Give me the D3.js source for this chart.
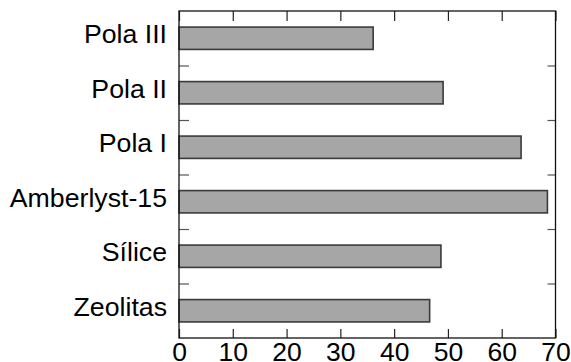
<!DOCTYPE html>
<html>
<head>
<meta charset="utf-8">
<script src="https://cdn.jsdelivr.net/npm/d3@7"></script>
<style>
html,body{margin:0;padding:0;background:#fff;}
svg{display:block;}
text{font-family:"Liberation Sans",Arial,sans-serif;}
</style>
</head>
<body>
<svg id="chart" width="571" height="362"></svg>
<script>
const categories = ["Pola III", "Pola II", "Pola I", "Amberlyst-15", "Sílice", "Zeolitas"];
const values = [36.1, 49.1, 63.6, 68.5, 48.7, 46.6];
const xTicks = [0, 10, 20, 30, 40, 50, 60, 70];

const svg = d3.select("#chart");
const L = 179, R = 555.5, T = 11, B = 338;

const x = d3.scaleLinear().domain([0, 70]).range([L, R]);
const y = d3.scaleBand().domain(categories).range([T, B]).paddingInner(0.59).paddingOuter(0.295);
const yEdge = d3.scaleLinear().domain([0, categories.length]).range([T, B]);

// bars
svg.append("g").selectAll("rect").data(categories).join("rect")
  .attr("x", x(0))
  .attr("y", d => y(d))
  .attr("width", (d, i) => x(values[i]) - x(0))
  .attr("height", y.bandwidth())
  .attr("fill", "#a6a6a6")
  .attr("stroke", "#3a3a3a")
  .attr("stroke-width", 1.6);

// x axes (inward ticks)
const gb = svg.append("g").attr("transform", `translate(0,${B})`)
  .call(d3.axisBottom(x).tickValues(xTicks).tickSize(-9).tickPadding(4).tickFormat(d3.format("d")));
const gt = svg.append("g").attr("transform", `translate(0,${T})`)
  .call(d3.axisTop(x).tickValues(xTicks).tickSize(-10).tickFormat(""));
// y edge ticks
const gl = svg.append("g").attr("transform", `translate(${L},0)`)
  .call(d3.axisLeft(yEdge).tickValues([1,2,3,4,5]).tickSize(-10).tickFormat(""));
const gr = svg.append("g").attr("transform", `translate(${R},0)`)
  .call(d3.axisRight(yEdge).tickValues([1,2,3,4,5]).tickSize(-8).tickFormat(""));

[gb, gt, gl, gr].forEach(g => {
  g.select(".domain").remove();
  g.selectAll(".tick line").attr("stroke", "#222").attr("stroke-width", 1.2);
});
gl.selectAll(".tick line").attr("stroke", "#555");
gr.selectAll(".tick line").attr("stroke", "#555");

gb.selectAll(".tick text")
  .attr("font-size", 26.5)
  .attr("fill", "#000")
  .attr("font-family", "Liberation Sans, Arial, sans-serif");

// category labels
svg.append("g").selectAll("text").data(categories).join("text")
  .attr("x", L - 12)
  .attr("y", d => y(d) + y.bandwidth() / 2 - 4.5)
  .attr("dy", "0.36em")
  .attr("text-anchor", "end")
  .attr("font-size", 26.7)
  .attr("fill", "#000")
  .text(d => d);

// frame
svg.append("rect")
  .attr("x", L).attr("y", T)
  .attr("width", R - L).attr("height", B - T)
  .attr("fill", "none").attr("stroke", "#111").attr("stroke-width", 1.3);
</script>
</body>
</html>
